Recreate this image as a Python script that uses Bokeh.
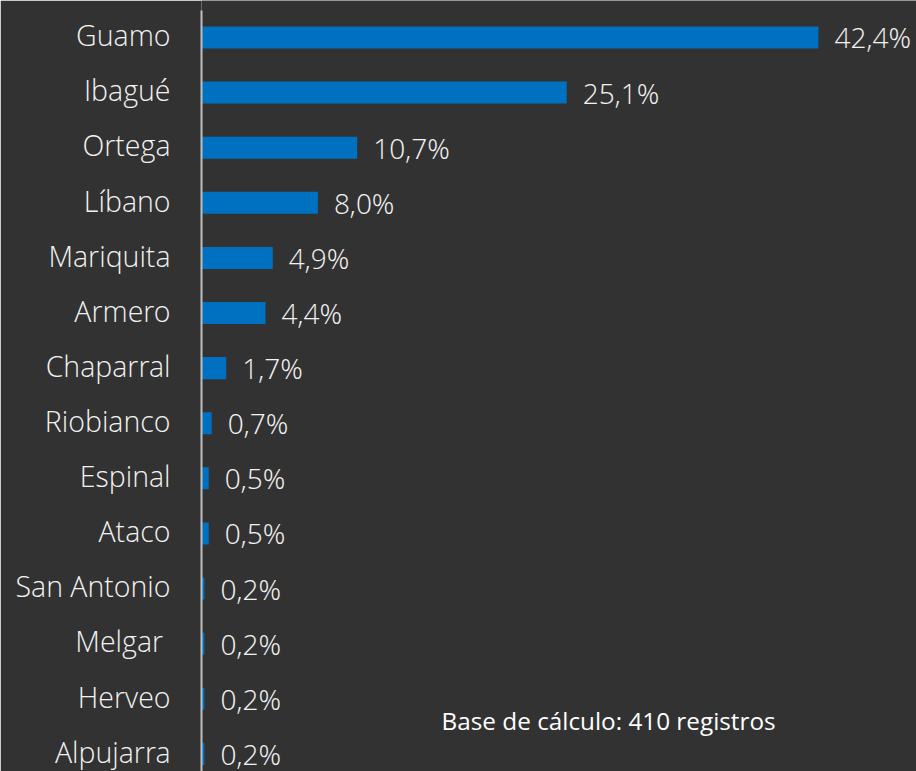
from bokeh.plotting import figure
from bokeh.models import ColumnDataSource, Range1d, FixedTicker, Label, LabelSet
from bokeh.core.properties import value
from bokeh.embed import file_html
from bokeh.resources import INLINE

municipios = ["Guamo", "Ibagué", "Ortega", "Líbano", "Mariquita", "Armero", "Chaparral",
              "Riobianco", "Espinal", "Ataco", "San Antonio", "Melgar ", "Herveo", "Alpujarra"]
porcentajes = [42.4, 25.1, 10.7, 8.0, 4.9, 4.4, 1.7, 0.7, 0.5, 0.5, 0.2, 0.2, 0.2, 0.2]
etiquetas = [f"{v:.1f}%".replace(".", ",") for v in porcentajes]
nota = "Base de cálculo: 410 registros"

BG = "#323232"
FONT = "Open Sans Light"
FONT_NOTE = "Open Sans"

pos = list(range(len(municipios)))
src = ColumnDataSource(dict(y=pos, v=porcentajes, lab=etiquetas))

p = figure(width=916, height=771, output_backend="svg", toolbar_location=None,
           x_range=Range1d(0, 49.14), y_range=Range1d(13.32, -0.671),
           min_border_left=201, min_border_right=0, min_border_top=0, min_border_bottom=0)
p.background_fill_color = BG
p.border_fill_color = BG
p.outline_line_color = None
p.grid.visible = False
p.xaxis.visible = False

p.hbar(y="y", right="v", left=0, height=0.4, source=src,
       fill_color="#0070C0", line_color=None)

labels = LabelSet(x="v", y="y", text="lab", source=src, x_offset=16, y_offset=0,
                  text_baseline="middle", text_align="left", text_line_height=1.0,
                  text_color="#F2F2F2", text_font=value(FONT), text_font_size="28px")
p.add_layout(labels)

# label positions nudged slightly up so the text centres on each bar as in the reference
tick_pos = [round(i - 0.04, 3) for i in pos]
ya = p.yaxis[0]
ya.ticker = FixedTicker(ticks=tick_pos)
ya.major_label_overrides = {t: m for t, m in zip(tick_pos, municipios)}
ya.bounds = (-0.49, 13.32)
ya.major_tick_line_color = None
ya.minor_tick_line_color = None
ya.major_tick_out = 0
ya.major_tick_in = 0
ya.major_label_standoff = 31
ya.axis_line_color = "#BFBFBF"
ya.axis_line_width = 2
ya.major_label_text_color = "#F2F2F2"
ya.major_label_text_font = FONT
ya.major_label_text_font_size = "28.5px"
ya.major_label_text_font_style = "normal"
ya.major_label_text_line_height = 1.0

p.add_layout(Label(x=16.5, y=12.4, text=nota, text_baseline="middle", text_align="left",
                   text_color="#FFFFFF", text_font=FONT_NOTE, text_font_size="24.3px"))

html = file_html(p, INLINE)
html = html.replace("<body>", '<body style="background:#323232;margin:0;">', 1)
open("out.html", "w").write(html)
